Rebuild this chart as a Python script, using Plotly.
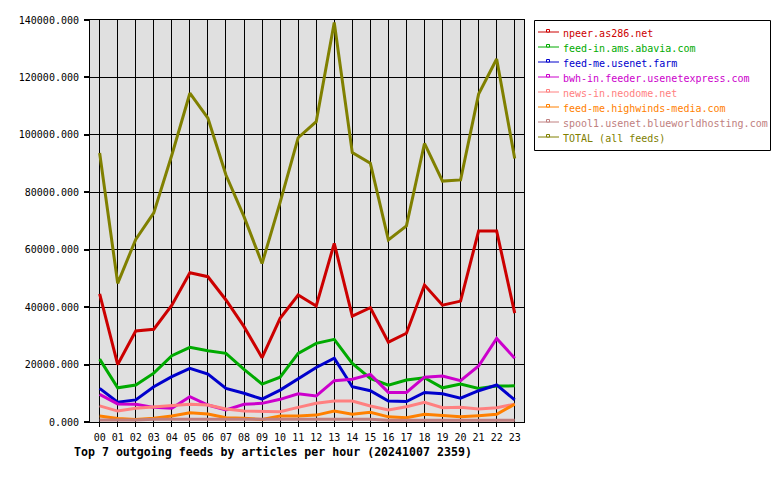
import plotly.graph_objects as go

hours = [f"{h:02d}" for h in range(24)]

series_names = [
    "npeer.as286.net",
    "feed-in.ams.abavia.com",
    "feed-me.usenet.farm",
    "bwh-in.feeder.usenetexpress.com",
    "news-in.neodome.net",
    "feed-me.highwinds-media.com",
    "spool1.usenet.blueworldhosting.com",
    "TOTAL (all feeds)",
]
series_colors = ["#cc0000", "#00aa00", "#0000cc", "#cc00cc",
                 "#ff8080", "#ff8000", "#c08080", "#808000"]

npeer = [44600, 20000, 31700, 32300, 40700, 52000, 50600, 42500, 33200, 22400, 36100, 44200,
         40400, 62200, 36900, 39800, 27800, 30900, 47700, 40700, 42100, 66500, 66500, 37900]
abavia = [21900, 11900, 12900, 17000, 23100, 26000, 24800, 23900, 18300, 13200, 15600, 23900,
          27400, 28800, 20400, 15200, 12800, 14600, 15400, 11900, 13200, 11700, 12500, 12600]
usenetfarm = [11700, 6900, 7700, 12300, 15800, 18700, 16700, 11700, 10000, 8000, 11100, 15200,
              19000, 22200, 12300, 10900, 7300, 7100, 10300, 9800, 8300, 10900, 12900, 7700]
usenetexpress = [9600, 6300, 6200, 5100, 4800, 8800, 5900, 4200, 6200, 6500, 7900, 9800,
                 9100, 14400, 14900, 16600, 10300, 10300, 15600, 16000, 14400, 19500, 29100, 22200]
neodome = [5600, 3800, 4800, 5300, 5900, 6200, 5900, 4500, 3800, 3800, 3600, 5100,
           6500, 7300, 7300, 5600, 4200, 5300, 6900, 5000, 5100, 4500, 5000, 6200]
highwinds = [2100, 1200, 900, 1300, 2100, 3200, 2800, 1500, 1300, 900, 2100, 2100,
             2400, 3800, 2700, 3400, 1800, 1500, 2700, 2200, 1800, 2200, 2700, 6200]
blueworld = [700, 700, 700, 1000, 1000, 1000, 1000, 1000, 1000, 1000, 1000, 1000,
             1000, 1000, 1000, 1000, 600, 600, 600, 600, 600, 600, 600, 600]
total = [93700, 48300, 63600, 72800, 93000, 114500, 105800, 86000, 71500, 55200, 76500, 99000,
         104600, 139100, 93800, 90100, 63400, 68300, 97000, 83900, 84300, 114200, 126400, 91800]

series_values = [npeer, abavia, usenetfarm, usenetexpress, neodome, highwinds, blueworld, total]

y_ticks = [0, 20000, 40000, 60000, 80000, 100000, 120000, 140000]
title_text = "Top 7 outgoing feeds by articles per hour (20241007 2359)"

MONO = "DejaVu Sans Mono"

# plot area in pixels
W, H = 780, 480
L, R, T, B = 90, 524, 20, 422


def px(x):
    return (x - L) / (R - L)


def py(y):
    return (B - y) / (B - T)


fig = go.Figure()
xs = list(range(len(hours)))
for name, color, vals in zip(series_names, series_colors, series_values):
    fig.add_trace(go.Scatter(x=xs, y=vals, name=name, mode="lines",
                             line=dict(color=color, width=3), showlegend=False))

shapes = []
annotations = []

# legend box
shapes.append(dict(type="rect", xref="paper", yref="paper",
                   x0=px(534.5), x1=px(770.5), y0=py(150.5), y1=py(20.5),
                   line=dict(color="black", width=1), fillcolor="white", layer="above"))
for i, (name, color) in enumerate(zip(series_names, series_colors)):
    ly = 32 + 15 * i
    shapes.append(dict(type="line", xref="paper", yref="paper",
                       x0=px(538), x1=px(559), y0=py(ly), y1=py(ly),
                       line=dict(color=color, width=1), layer="above"))
    shapes.append(dict(type="rect", xref="paper", yref="paper",
                       x0=px(546.5), x1=px(549.5), y0=py(ly), y1=py(ly - 2.5),
                       line=dict(color=color, width=1), fillcolor="white", layer="above"))
    annotations.append(dict(xref="paper", yref="paper", x=px(561), y=py(ly + 1),
                            xanchor="left", yanchor="middle", showarrow=False,
                            text=name, font=dict(family=MONO, size=10, color=color)))

annotations.append(dict(xref="paper", yref="paper", x=px(71.5), y=py(451.5),
                        xanchor="left", yanchor="middle", showarrow=False,
                        text="<b>" + title_text + "</b>",
                        font=dict(family=MONO, size=11.6, color="black")))

fig.update_layout(
    width=W, height=H,
    margin=dict(l=L, r=W - R, t=T, b=H - B, pad=0),
    paper_bgcolor="white",
    plot_bgcolor="#e0e0e0",
    showlegend=False,
    shapes=shapes,
    annotations=annotations,
    font=dict(family=MONO, size=10, color="black"),
)
fig.update_xaxes(
    range=[-0.535, 23.515],
    tickmode="array", tickvals=xs, ticktext=hours,
    showgrid=True, gridcolor="black", gridwidth=1,
    showline=True, linecolor="black", linewidth=1, mirror=True,
    ticks="outside", ticklen=4, tickwidth=1, tickcolor="black",
    zeroline=False, ticklabelstandoff=2,
    tickfont=dict(family=MONO, size=10, color="black"),
)
fig.update_yaxes(
    range=[0, 140000],
    tickmode="array", tickvals=y_ticks, tickformat=".3f",
    showgrid=True, gridcolor="black", gridwidth=1,
    showline=True, linecolor="black", linewidth=1, mirror=True,
    ticks="outside", ticklen=5, tickwidth=2, tickcolor="black",
    zeroline=False, ticklabelstandoff=3,
    tickfont=dict(family=MONO, size=10, color="black"),
)

fig.write_html("out.html")
